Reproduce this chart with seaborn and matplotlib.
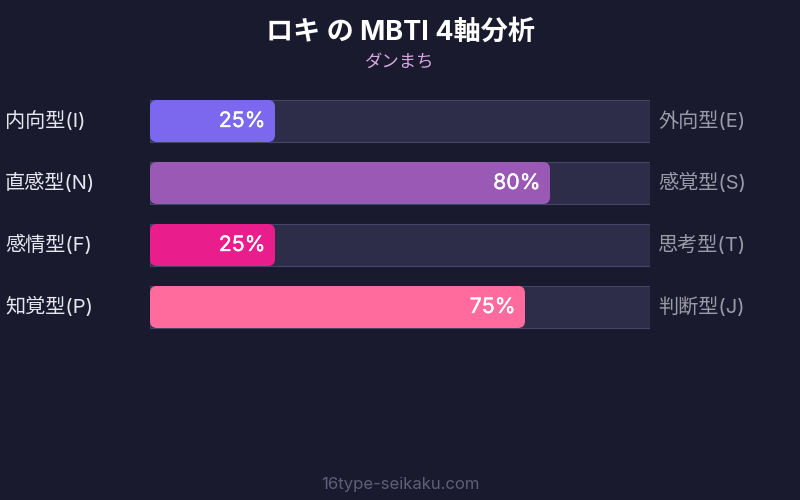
import matplotlib
matplotlib.use("Agg")
import matplotlib.pyplot as plt
import matplotlib.patheffects as pe
import seaborn as sns
import pandas as pd
from matplotlib.patches import FancyBboxPatch

left_labels = ["内向型(I)", "直感型(N)", "感情型(F)", "知覚型(P)"]
right_labels = ["外向型(E)", "感覚型(S)", "思考型(T)", "判断型(J)"]
values = [25, 80, 25, 75]
colors = ["#7b68ee", "#9b59b6", "#e91e8c", "#ff6b9d"]
title = "ロキ の MBTI 4軸分析"
subtitle = "ダンまち"
footer = "16type-seikaku.com"

BG = "#1a1a2e"
TRACK = "#2d2d4a"
EDGE = "#45456a"
FONT = ["Inter", "Noto Sans CJK JP", "DejaVu Sans"]

sns.set_theme(style="white")
plt.rcParams["font.family"] = FONT

df = pd.DataFrame({"axis": left_labels, "value": values, "track": [100] * 4})

fig = plt.figure(figsize=(8, 5), dpi=100, facecolor=BG)
ax = fig.add_axes([150 / 800, 1 - 338 / 500, 500 / 800, 248 / 500])
ax.set_facecolor(BG)

sns.barplot(data=df, y="axis", x="track", orient="h", color=TRACK, width=42 / 62,
            edgecolor=EDGE, linewidth=0.8, saturation=1, ax=ax)
sns.barplot(data=df, y="axis", x="value", orient="h", palette=colors, hue="axis",
            legend=False, width=42 / 62, linewidth=0, saturation=1, ax=ax)

ax.set_xlim(0, 100)
ax.set_ylim(3.5, -0.5)

patches = list(ax.patches)
value_patches = patches[4:]
for p in value_patches:
    x, y = p.get_x(), p.get_y()
    w, h = p.get_width(), p.get_height()
    fc = p.get_facecolor()
    p.set_visible(False)
    rp = FancyBboxPatch((x, y), w, h,
                        boxstyle="round,pad=0,rounding_size=1.4",
                        mutation_aspect=5 / 62, facecolor=fc, edgecolor="none",
                        zorder=3)
    ax.add_patch(rp)

for i, v in enumerate(values):
    t = ax.text(v - 1.9, i, f"{v}%", ha="right", va="center", color="white",
                fontsize=15.3, fontweight="normal", family=FONT, zorder=4)
    t.set_path_effects([pe.withStroke(linewidth=0.25, foreground="white")])

for i, lab in enumerate(left_labels):
    fig.text(5 / 800, 1 - (121 + 62 * i) / 500, lab, ha="left", va="center",
             color="#e6e6f0", fontsize=14.5, family=FONT)
for i, lab in enumerate(right_labels):
    fig.text(658 / 800, 1 - (121 + 62 * i) / 500, lab, ha="left", va="center",
             color="#9a9aa8", fontsize=14.5, family=FONT)

ax.set_xlabel("")
ax.set_ylabel("")
ax.set_xticks([])
ax.set_yticks([])
for s in ax.spines.values():
    s.set_visible(False)

fig.text(0.5, 1 - 33 / 500, title, ha="center", va="center", color="white",
         fontsize=19.5, fontweight="bold", family=FONT)
fig.text(0.5, 1 - 62 / 500, subtitle, ha="center", va="center", color="#d8a8e0",
         fontsize=12.5, family=FONT)
fig.text(0.5, 1 - 484 / 500, footer, ha="center", va="center", color="#5e5e78",
         fontsize=12, family=FONT)

fig.savefig("out.png", dpi=100, facecolor=BG)
